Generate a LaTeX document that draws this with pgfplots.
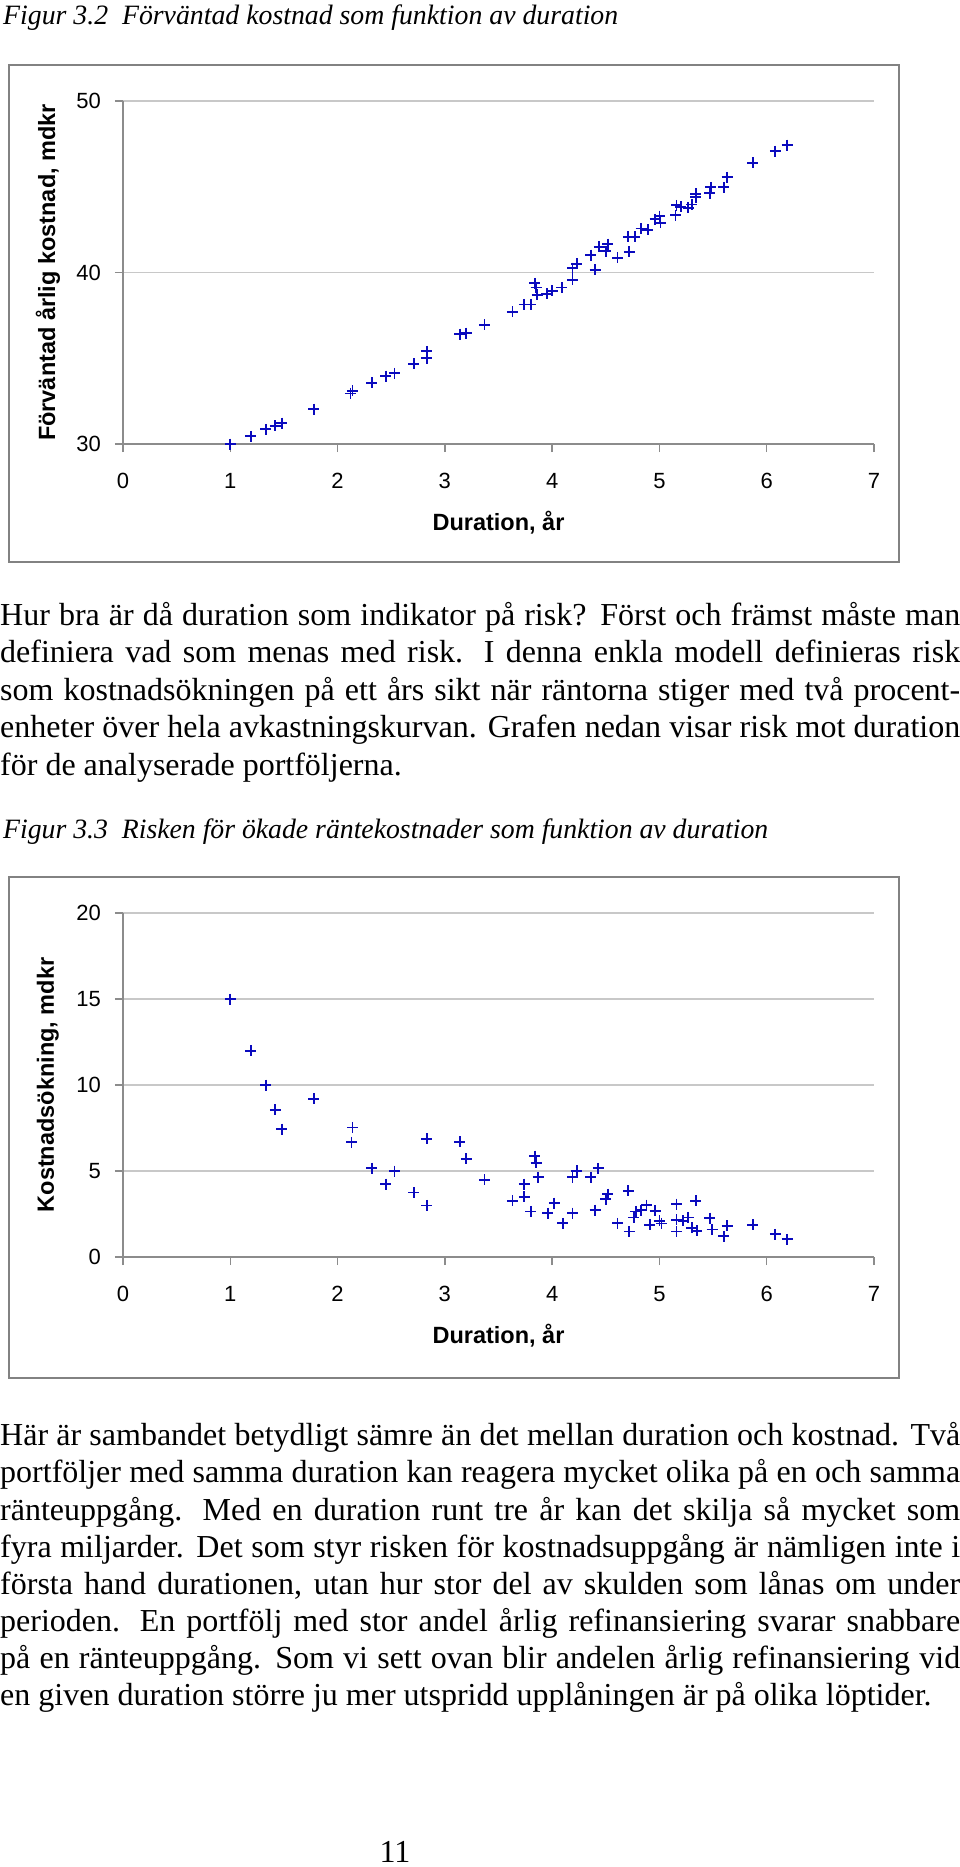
\documentclass[border=0pt]{standalone}
\usepackage{pgfplots}
\pgfplotsset{compat=1.18}
\usepackage{graphicx}
\usepackage{fontspec}
\setmainfont{Liberation Serif}
\newfontfamily\chartfont{Liberation Sans}
\definecolor{ptblue}{RGB}{10,10,190}
\definecolor{gridgray}{RGB}{200,200,200}
\definecolor{axisgray}{RGB}{140,140,140}
\definecolor{framegray}{RGB}{130,130,130}
\newcommand\bodyfont{\fontsize{32}{37.5}\selectfont}
\newcommand\titlefont{\fontsize{28}{32}\selectfont\itshape}
\newcommand\labelfont{\chartfont\bfseries\fontsize{23.5}{28}\selectfont}

\pgfplotstableread{
x y
1.00 30.00
1.19 30.45
1.33 30.86
1.42 31.05
1.48 31.22
1.78 32.04
2.12 32.95
2.14 33.10
2.32 33.58
2.45 33.96
2.53 34.12
2.71 34.68
2.83 35.00
2.83 35.40
3.14 36.41
3.20 36.47
3.37 36.96
3.63 37.72
3.74 38.14
3.80 38.14
3.84 39.37
3.85 39.13
3.86 38.69
3.95 38.75
4.00 38.94
4.09 39.12
4.19 39.58
4.19 40.26
4.23 40.50
4.40 40.16
4.36 41.02
4.44 41.50
4.50 41.25
4.52 41.66
4.61 40.85
4.72 41.21
4.71 42.07
4.77 42.07
4.83 42.57
4.89 42.48
4.96 43.10
5.00 43.29
5.01 42.90
5.15 43.33
5.16 43.92
5.20 43.84
5.27 43.78
5.30 43.97
5.34 44.38
5.34 44.58
5.47 44.63
5.48 44.97
5.60 44.97
5.63 45.55
5.87 46.39
6.08 47.07
6.19 47.42
}\kostnad

\pgfplotstableread{
x y
1.00 15.00
1.19 12.00
1.33 10.00
1.42 8.56
1.48 7.43
1.78 9.20
2.14 7.53
2.13 6.67
2.32 5.17
2.45 4.24
2.53 5.00
2.71 3.75
2.83 6.87
2.83 3.00
3.14 6.69
3.20 5.70
3.37 4.49
3.63 3.27
3.74 4.24
3.74 3.50
3.80 2.65
3.84 5.86
3.85 5.47
3.87 4.63
3.96 2.55
4.02 3.13
4.10 1.96
4.19 2.55
4.19 4.63
4.23 5.02
4.36 4.63
4.40 2.72
4.43 5.16
4.50 3.35
4.52 3.66
4.61 1.96
4.71 3.85
4.72 1.48
4.76 2.30
4.78 2.65
4.83 2.72
4.88 3.02
4.91 1.87
4.96 2.68
5.00 2.10
5.02 1.95
5.16 3.07
5.16 2.16
5.16 1.48
5.22 2.10
5.27 2.30
5.30 1.69
5.34 3.27
5.35 1.52
5.47 2.26
5.49 1.60
5.60 1.21
5.63 1.81
5.87 1.87
6.08 1.32
6.19 1.03
}\risk

\pgfplotsset{
  myaxis/.style={
    scale only axis, width=751pt,
    xmin=0, xmax=7, xtick={0,1,...,7},
    axis lines=left,
    axis line style={-, draw=axisgray, line width=1.4pt},
    tick align=outside, major tick length=8pt,
    tick style={draw=axisgray, line width=1.4pt},
    ymajorgrids, grid style={draw=gridgray, line width=1.4pt},
    /pgf/number format/assume math mode=true,
    ticklabel style={font=\chartfont\fontsize{22}{26}\selectfont},
    xticklabel style={anchor=center, yshift=-29pt},
    yticklabel style={anchor=east, inner sep=0pt, xshift=-14pt},
    every axis x label/.style={at={(axis description cs:0.5,-0.23)}, anchor=center, font=\labelfont},
    every axis y label/.style={at={(axis description cs:-0.0999,0.5)}, rotate=90, anchor=center, font=\labelfont},
    clip=false,
  },
  mypts/.style={only marks, mark=+, mark size=5.5pt,
    mark options={draw=ptblue, line width=1.8pt}},
}

\begin{document}
\begin{tikzpicture}
\useasboundingbox (0pt,0pt) rectangle (960pt,-1867pt);

% ---- Figure 3.2 title
\node[anchor=base west, inner sep=0pt] at (3pt,-25pt)
  {\resizebox{615pt}{\height}{\titlefont Figur 3.2\hspace{14pt}Förväntad kostnad som funktion av duration}};

\draw[framegray, line width=2pt] (9pt,-65pt) rectangle (899pt,-562pt);

\begin{axis}[myaxis, at={(123pt,-444pt)}, anchor=south west, height=343pt,
  ymin=30, ymax=50, ytick={30,40,50},
  xlabel={Duration, år}, ylabel={Förväntad årlig kostnad, mdkr}]
\addplot[mypts] table[x=x, y=y] {\kostnad};
\end{axis}

% ---- Paragraph 1
\node[anchor=base west, inner sep=0pt] at (0pt,-625pt) {\bodyfont\makebox[960pt][s]{Hur bra är då duration som indikator på risk? Först och främst måste man}};
\node[anchor=base west, inner sep=0pt] at (0pt,-662pt) {\bodyfont\makebox[960pt][s]{definiera vad som menas med risk. I denna enkla modell definieras risk}};
\node[anchor=base west, inner sep=0pt] at (0pt,-700pt) {\bodyfont\makebox[960pt][s]{som kostnadsökningen på ett års sikt när räntorna stiger med två procent-}};
\node[anchor=base west, inner sep=0pt] at (0pt,-737pt) {\bodyfont\makebox[960pt][s]{enheter över hela avkastningskurvan. Grafen nedan visar risk mot duration}};
\node[anchor=base west, inner sep=0pt] at (0pt,-775pt) {\bodyfont för de analyserade portföljerna.};

% ---- Figure 3.3 title
\node[anchor=base west, inner sep=0pt] at (3pt,-838pt)
  {\resizebox{765pt}{\height}{\titlefont Figur 3.3\hspace{14pt}Risken för ökade räntekostnader som funktion av duration}};

\draw[framegray, line width=2pt] (9pt,-877pt) rectangle (899pt,-1378pt);

\begin{axis}[myaxis, at={(123pt,-1257pt)}, anchor=south west, height=344pt,
  ymin=0, ymax=20, ytick={0,5,10,15,20},
  xlabel={Duration, år}, ylabel={Kostnadsökning, mdkr}]
\addplot[mypts] table[x=x, y=y] {\risk};
\end{axis}

% ---- Paragraph 2
\node[anchor=base west, inner sep=0pt] at (0pt,-1445pt) {\bodyfont\makebox[960pt][s]{Här är sambandet betydligt sämre än det mellan duration och kostnad. Två}};
\node[anchor=base west, inner sep=0pt] at (0pt,-1482pt) {\bodyfont\makebox[960pt][s]{portföljer med samma duration kan reagera mycket olika på en och samma}};
\node[anchor=base west, inner sep=0pt] at (0pt,-1520pt) {\bodyfont\makebox[960pt][s]{ränteuppgång. Med en duration runt tre år kan det skilja så mycket som}};
\node[anchor=base west, inner sep=0pt] at (0pt,-1557pt) {\bodyfont\makebox[960pt][s]{fyra miljarder. Det som styr risken för kostnadsuppgång är nämligen inte i}};
\node[anchor=base west, inner sep=0pt] at (0pt,-1594pt) {\bodyfont\makebox[960pt][s]{första hand durationen, utan hur stor del av skulden som lånas om under}};
\node[anchor=base west, inner sep=0pt] at (0pt,-1631pt) {\bodyfont\makebox[960pt][s]{perioden. En portfölj med stor andel årlig refinansiering svarar snabbare}};
\node[anchor=base west, inner sep=0pt] at (0pt,-1668pt) {\bodyfont\makebox[960pt][s]{på en ränteuppgång. Som vi sett ovan blir andelen årlig refinansiering vid}};
\node[anchor=base west, inner sep=0pt] at (0pt,-1705pt) {\bodyfont en given duration större ju mer utspridd upplåningen är på olika löptider.};

% ---- page number
\node[anchor=base, inner sep=0pt] at (395pt,-1862pt) {\bodyfont 11};
\end{tikzpicture}
\end{document}
